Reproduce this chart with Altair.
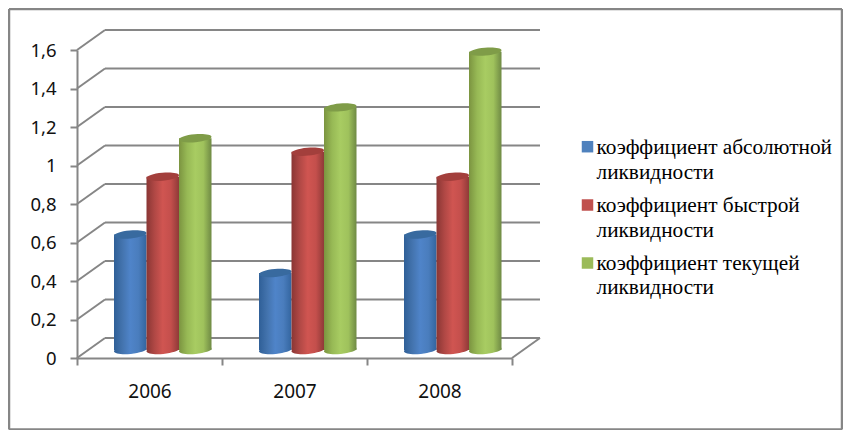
import altair as alt
import pandas as pd

years = ["2006", "2007", "2008"]
series = ["коэффициент абсолютной ликвидности", "коэффициент быстрой ликвидности", "коэффициент текущей ликвидности"]
absolute = [0.6, 0.4, 0.6]
quick = [0.9, 1.03, 0.9]
current = [1.1, 1.26, 1.55]
y_ticks = [0, 0.2, 0.4, 0.6, 0.8, 1.0, 1.2, 1.4, 1.6]
legend_colors = ["#4f81bd", "#c0504d", "#9bbb59"]
body_stops = [
    ["#2f5f97", "#4373ad", "#4f84c9", "#4a7dbd", "#33659f"],
    ["#8a3634", "#b04845", "#d05551", "#c44f4c", "#8f3a38"],
    ["#7b9440", "#97b955", "#a8cc62", "#9fc25c", "#6f8a44"],
]
top_colors = ["#386a9f", "#a33f3c", "#7f9c48"]

PX, PY = 145.0, 192.5          # pixels per category / per unit
W, H = 435, 308                # front plot frame
DX, DY = 28 / PX, 20 / PY      # depth of the 3-D box
BASE = 8 / PY                  # cylinders stand a little behind the front edge
GREY = "#868686"
ELLIPSE = "M-1,0.09 A1,0.24 -5 1,1 1,-0.09 A1,0.24 -5 1,1 -1,0.09 Z"
BAR_W = 32.5 / PX
X0 = 37 / PX

y_axis = alt.Axis(values=y_ticks, labelExpr="replace(datum.label, '.', ',')", format="~g",
                  tickSize=7, tickWidth=2, tickColor=GREY, domainColor=GREY, domainWidth=2,
                  labelFont="Noto Sans", labelFontSize=18.5, labelColor="#111111",
                  labelPadding=14, grid=False, title=None)
xq = alt.Scale(domain=[0, 3], nice=False, zero=False)
ys = alt.Scale(domain=[0, 1.6], nice=False, zero=False)
X = lambda f: alt.X(f, type="quantitative", scale=xq, axis=None)
Y = lambda f: alt.Y(f, type="quantitative", scale=ys, axis=y_axis)


def grad(stops):
    n = len(stops) - 1
    return alt.LinearGradient(
        gradient="linear", x1=0, y1=0, x2=1, y2=0,
        stops=[alt.GradientStop(offset=i / n, color=c) for i, c in enumerate(stops)],
    )


# Axes
axis_layer = alt.Chart(pd.DataFrame({"year": years, "z": [0, 0, 0]})).mark_point(opacity=0).encode(
    x=alt.X("year:N", title=None, sort=years,
            scale=alt.Scale(type="band", paddingInner=0, paddingOuter=0),
            axis=alt.Axis(labelAngle=0, tickBand="extent", tickSize=7, tickWidth=2, tickColor=GREY,
                          domainColor=GREY, domainWidth=2, labelFont="Noto Sans", labelFontSize=19,
                          labelColor="#111111", labelPadding=17, grid=False)),
    y=Y("z"),
)

# Walls and floor
grid_df = pd.DataFrame({"v": y_ticks})
grid_df["x0"], grid_df["x1"], grid_df["xb"] = DX, 3 + DX, 0.0
grid_df["vb"] = grid_df["v"] + DY
back = alt.Chart(grid_df).mark_rule(color=GREY, strokeWidth=2).encode(x=X("x0"), x2="x1", y=Y("vb"))
side = alt.Chart(grid_df).mark_rule(color=GREY, strokeWidth=2).encode(x=X("xb"), x2="x0", y=Y("v"), y2="vb")
floor_right = alt.Chart(pd.DataFrame({"a": [3.0], "b": [3 + DX], "u": [0.0], "w": [DY]})).mark_rule(
    color=GREY, strokeWidth=2).encode(x=X("a"), x2="b", y=Y("u"), y2="w")

# Outer frame
fx0, fx1 = (9 - 77) / PX, (842 - 77) / PX
fy0, fy1 = (358 - 429.5) / PY, (358 - 9) / PY
frame_df = pd.DataFrame({"a": [fx0, fx1, fx0, fx0], "b": [fx0, fx1, fx1, fx1],
                         "u": [fy0, fy0, fy0, fy1], "w": [fy1, fy1, fy0, fy1]})
frame = alt.Chart(frame_df).mark_rule(color=GREY, strokeWidth=2.5).encode(x=X("a"), x2="b", y=Y("u"), y2="w")

# Cylinders
layers = [axis_layer, back, side, floor_right, frame]
for s, vals in enumerate([absolute, quick, current]):
    df = pd.DataFrame({
        "year": years,
        "value": vals,
        "left": [i + X0 + s * BAR_W for i in range(3)],
        "right": [i + X0 + (s + 1) * BAR_W for i in range(3)],
    })
    df["mid"] = (df["left"] + df["right"]) / 2
    df["base"] = BASE
    df["top"] = df["value"] + BASE
    g = grad(body_stops[s])
    size = (32.5) ** 2
    layers.append(alt.Chart(df).mark_point(shape=ELLIPSE, size=size, fill=g, filled=True, opacity=1, strokeWidth=0)
                  .encode(x=X("mid"), y=Y("base")))
    layers.append(alt.Chart(df).mark_bar(fill=g, strokeWidth=0).encode(x=X("left"), x2="right", y=Y("top"), y2="base"))
    layers.append(alt.Chart(df).mark_point(shape=ELLIPSE, size=size, fill=top_colors[s], filled=True, opacity=1, strokeWidth=0)
                  .encode(x=X("mid"), y=Y("top")))

# Legend, placed through the chart's own scales
sym_px = [146.7, 205, 263]
line_px = [(148, 172.5), (206, 230.5), (264, 288)]
sx = lambda px: (px - 77) / PX
sy = lambda py: (358 - py) / PY
leg_sym = pd.DataFrame({"series": series, "lx": [sx(587.5)] * 3, "ly": [sy(p) for p in sym_px]})
layers.append(alt.Chart(leg_sym).mark_square(size=132, opacity=1, strokeWidth=0).encode(
    x=X("lx"), y=Y("ly"),
    color=alt.Color("series:N", sort=series, scale=alt.Scale(domain=series, range=legend_colors), legend=None),
))
rows = []
for name, (p1, p2) in zip(series, line_px):
    first, second = name.rsplit(" ", 1)
    rows += [{"t": first, "ly": sy(p1)}, {"t": second, "ly": sy(p2)}]
leg_txt = pd.DataFrame(rows)
leg_txt["lx"] = sx(596.5)
layers.append(alt.Chart(leg_txt).mark_text(font="Liberation Serif", fontSize=21.3, align="left", baseline="middle",
                                           color="#000000").encode(x=X("lx"), y=Y("ly"), text="t:N"))

chart = alt.layer(*layers).resolve_scale(x="independent").properties(
    width=W, height=H,
    autosize=alt.AutoSizeParams(type="none"),
    padding={"left": 69, "top": 42, "right": 331, "bottom": 72},
    background="#ffffff",
).configure_view(stroke=None)

chart.save("out.html", embed_options={"renderer": "svg", "actions": False})
